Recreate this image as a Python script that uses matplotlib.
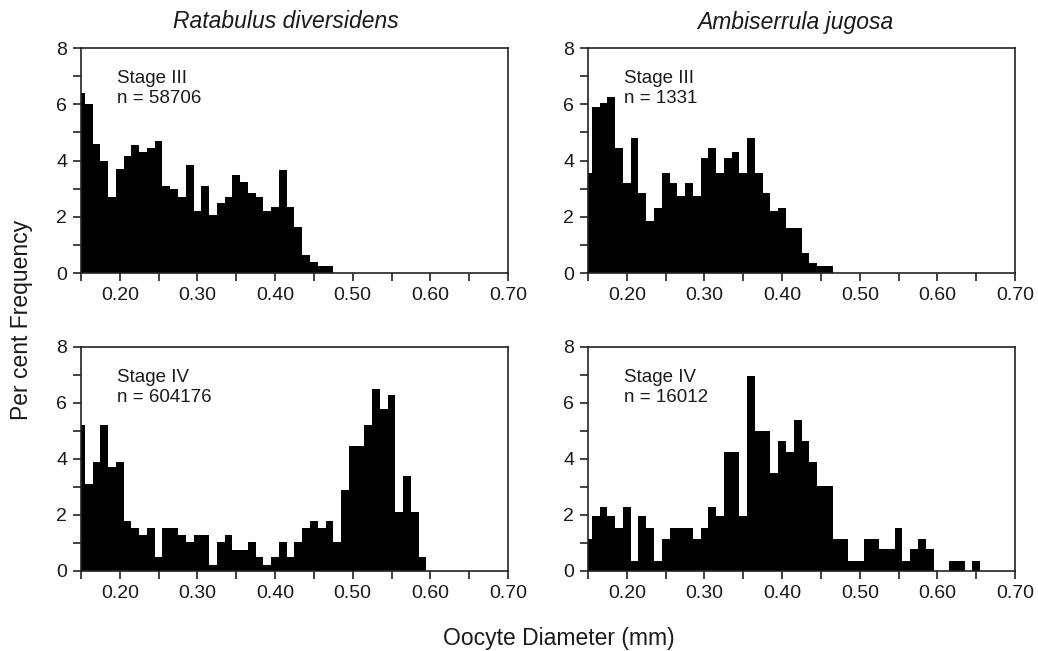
import numpy as np
import matplotlib
matplotlib.use("Agg")
import matplotlib.pyplot as plt
from matplotlib.ticker import MultipleLocator, FormatStrFormatter

plt.rcParams['font.family'] = ['Liberation Sans', 'DejaVu Sans']

# Datos: porcentaje por clase de diámetro (clases de 0.01 mm, centradas en 0.15, 0.16, ...)
bin_start = 0.15
bin_width = 0.01

especies = ["Ratabulus diversidens", "Ambiserrula jugosa"]

rat_stage3 = [6.4, 6.0, 4.6, 4.0, 2.7, 3.7, 4.15, 4.55, 4.3, 4.45,
              4.7, 3.1, 3.0, 2.7, 3.85, 2.2, 3.1, 2.05, 2.5, 2.7,
              3.5, 3.25, 2.85, 2.7, 2.2, 2.35, 3.65, 2.35, 1.65, 0.65,
              0.4, 0.25, 0.25]
amb_stage3 = [3.55, 5.9, 6.05, 6.25, 4.45, 3.2, 4.8, 2.85, 1.85, 2.3,
              3.55, 3.2, 2.75, 3.2, 2.75, 4.1, 4.45, 3.55, 4.1, 4.3,
              3.55, 4.8, 3.55, 2.85, 2.2, 2.3, 1.6, 1.6, 0.7, 0.35,
              0.25, 0.25]
rat_stage4 = [5.2, 3.1, 3.9, 5.2, 3.7, 3.9, 1.8, 1.55, 1.3, 1.55,
              0.5, 1.55, 1.55, 1.3, 1.05, 1.3, 1.3, 0.2, 1.05, 1.3,
              0.75, 0.75, 1.05, 0.5, 0.2, 0.5, 1.05, 0.5, 1.05, 1.55,
              1.8, 1.55, 1.8, 1.05, 2.9, 4.45, 4.45, 5.2, 6.5, 5.8,
              6.3, 2.1, 3.4, 2.1, 0.5]
amb_stage4 = [1.15, 1.95, 2.3, 1.95, 1.55, 2.3, 0.37, 1.95, 1.55, 0.37,
              1.15, 1.55, 1.55, 1.55, 1.15, 1.55, 2.3, 1.95, 4.25, 4.25,
              1.95, 6.95, 5.0, 5.0, 3.5, 4.65, 4.25, 5.4, 4.65, 3.9,
              3.05, 3.05, 1.15, 1.15, 0.37, 0.37, 1.15, 1.15, 0.78, 0.78,
              1.55, 0.37, 0.78, 1.15, 0.78, 0, 0, 0.37, 0.37, 0,
              0.37]

paneles = [
    (rat_stage3, "Stage III\nn = 58706"),
    (amb_stage3, "Stage III\nn = 1331"),
    (rat_stage4, "Stage IV\nn = 604176"),
    (amb_stage4, "Stage IV\nn = 16012"),
]

texto = '#1a1a1a'

fig = plt.figure(figsize=(10.38, 6.51), dpi=100)

# posiciones [izq, abajo, ancho, alto] en fracción de figura
posiciones = [
    [0.0780, 0.5806, 0.4114, 0.3456],
    [0.5665, 0.5806, 0.4114, 0.3456],
    [0.0780, 0.1229, 0.4114, 0.3441],
    [0.5665, 0.1229, 0.4114, 0.3441],
]

for (valores, etiqueta), pos in zip(paneles, posiciones):
    ax = fig.add_axes(pos)
    centros = bin_start + bin_width * np.arange(len(valores))
    ax.bar(centros, valores, width=bin_width, color='black', align='center', linewidth=0)

    ax.set_xlim(0.15, 0.70)
    ax.set_ylim(0, 8)
    ax.xaxis.set_major_locator(MultipleLocator(0.1))
    ax.xaxis.set_minor_locator(MultipleLocator(0.05))
    ax.xaxis.set_major_formatter(FormatStrFormatter('%.2f'))
    ax.yaxis.set_major_locator(MultipleLocator(2))
    ax.yaxis.set_minor_locator(MultipleLocator(1))

    for s in ax.spines.values():
        s.set_linewidth(1.2)
        s.set_color('#222222')
    ax.tick_params(which='both', direction='out', length=6, width=1.2, color='#222222')
    ax.tick_params(which='major', labelsize=14, pad=4, labelcolor=texto)

    ax.text(0.085, 0.82, etiqueta, transform=ax.transAxes, fontsize=13.5,
            ha='left', va='center', color=texto, linespacing=1.25)

# títulos de especie
fig.text(286 / 1038, 1 - 22 / 651, especies[0], fontsize=16.5, style='italic',
         ha='center', va='center', color=texto)
fig.text(795 / 1038, 1 - 22 / 651, especies[1], fontsize=16.5, style='italic',
         ha='center', va='center', color=texto)

# etiquetas de ejes
fig.text(22 / 1038, 1 - 320 / 651, "Per cent Frequency", fontsize=16.5, rotation=90,
         ha='center', va='center', color=texto)
fig.text(559 / 1038, 1 - 638 / 651, "Oocyte Diameter (mm)", fontsize=16.5,
         ha='center', va='center', color=texto)

fig.savefig("out.png", dpi=100)
